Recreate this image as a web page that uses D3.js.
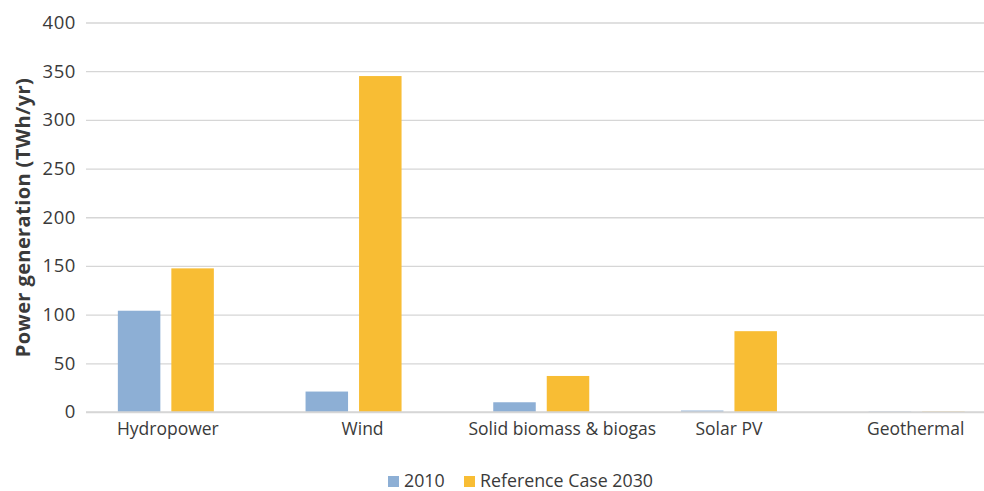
<!DOCTYPE html>
<html>
<head>
<meta charset="utf-8">
<script src="https://cdn.jsdelivr.net/npm/d3@7"></script>
<style>
  html, body { margin: 0; padding: 0; background: #fff; }
  svg text { font-family: "Open Sans", sans-serif; fill: #3a3a3a; }
</style>
</head>
<body>
<svg id="chart" width="984" height="491"></svg>
<script>
// Power generation by technology (TWh/yr)
const categories = ["Hydropower", "Wind", "Solid biomass & biogas", "Solar PV", "Geothermal"];
const seriesNames = ["2010", "Reference Case 2030"];
const values2010 = [104, 21, 10, 1.5, 0.4];
const values2030 = [147.5, 345, 37, 83, 0.4];
const yTicks = [0, 50, 100, 150, 200, 250, 300, 350, 400];
const colors = ["#8dafd5", "#f8bd34"];

// horizontal nudges (px) for the category labels under the bars
const labelNudge = { "Hydropower": 2, "Wind": 9, "Solid biomass & biogas": 21, "Solar PV": 0, "Geothermal": -1 };

const svg = d3.select("#chart");

const y = d3.scaleLinear().domain([0, 400]).range([412, 22.5]);

// one band per technology, a pair of bars inside each band
const x0 = d3.scaleBand().domain(categories).range([72, 1010.5]).padding(0);
const groupWidth = 96;
const x1 = d3.scaleBand().domain(seriesNames)
  .range([(x0.bandwidth() - groupWidth) / 2, (x0.bandwidth() + groupWidth) / 2])
  .paddingInner(0.2056).paddingOuter(0);

// horizontal gridlines with tick labels
const yAxis = d3.axisLeft(y).tickValues(yTicks).tickSize(-(984 - 86)).tickPadding(10);
const gy = svg.append("g").attr("transform", "translate(86,0)").call(yAxis);
gy.select(".domain").remove();
gy.selectAll(".tick line").attr("stroke", "#d6d6d6").attr("stroke-width", 1.3);
gy.selectAll(".tick text").attr("font-size", 18.5).attr("letter-spacing", 0.6)
  .attr("fill", "#3a3a3a").style("font-family", "'Open Sans', sans-serif");

// bars
const rows = categories.map((c, i) => ({ cat: c, vals: [values2010[i], values2030[i]] }));
const groups = svg.append("g").selectAll("g").data(rows).join("g")
  .attr("transform", d => `translate(${x0(d.cat)},0)`);
groups.selectAll("rect")
  .data(d => d.vals.map((v, j) => ({ key: seriesNames[j], v, j })))
  .join("rect")
  .attr("x", d => x1(d.key))
  .attr("width", x1.bandwidth())
  .attr("y", d => y(d.v))
  .attr("height", d => y(0) - y(d.v))
  .attr("fill", d => colors[d.j]);

// baseline
svg.append("line")
  .attr("x1", 86).attr("x2", 984).attr("y1", y(0)).attr("y2", y(0))
  .attr("stroke", "#d6d6d6").attr("stroke-width", 1.5);

// category labels
const xAxis = d3.axisBottom(x0).tickSize(0).tickPadding(11);
const gx = svg.append("g").attr("transform", `translate(0,${y(0)})`).call(xAxis);
gx.select(".domain").remove();
gx.selectAll(".tick text").attr("font-size", 17.5).attr("fill", "#3a3a3a")
  .attr("dx", d => labelNudge[d] || 0)
  .style("font-family", "'Open Sans', sans-serif");

// y axis title
svg.append("text")
  .attr("transform", `translate(30,217.5) rotate(-90)`)
  .attr("text-anchor", "middle")
  .attr("font-size", 20)
  .attr("letter-spacing", 0.4)
  .attr("font-weight", "bold")
  .attr("fill", "#1a1a1a")
  .text("Power generation (TWh/yr)");

// legend
const legendItems = [
  { label: seriesNames[0], color: colors[0], x: 388 },
  { label: seriesNames[1], color: colors[1], x: 464 }
];
const lg = svg.append("g").selectAll("g").data(legendItems).join("g")
  .attr("transform", d => `translate(${d.x},476)`);
lg.append("rect").attr("width", 11).attr("height", 11).attr("fill", d => d.color);
lg.append("text").attr("x", 16).attr("y", 11).attr("font-size", 17.8)
  .attr("fill", "#3a3a3a").text(d => d.label);
</script>
</body>
</html>
